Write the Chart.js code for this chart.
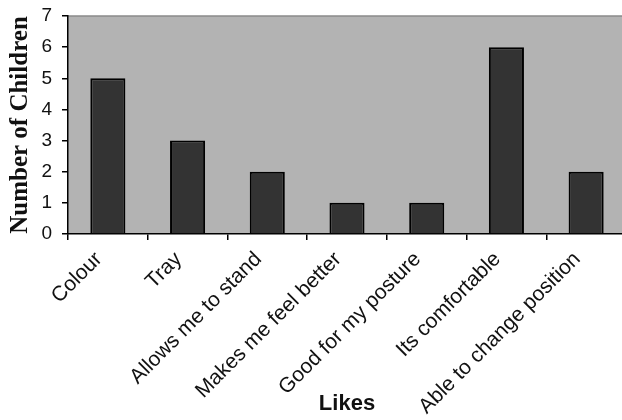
<!DOCTYPE html>
<html>
<head>
<meta charset="utf-8">
<script src="https://cdn.jsdelivr.net/npm/chart.js@4.4.1/dist/chart.umd.min.js"></script>
<style>
  html, body { margin: 0; padding: 0; background: #fff; overflow: hidden; }
  #wrap { width: 626px; height: 420px; }
</style>
</head>
<body>
<div id="wrap"><canvas id="chartLikes" width="626" height="420"></canvas></div>
<script>
// data
const likes = ["Colour", "Tray", "Allows me to stand", "Makes me feel better", "Good for my posture", "Its comfortable", "Able to change position"];
const children = [5, 3, 2, 1, 1, 6, 2];
const yTicks = [0, 1, 2, 3, 4, 5, 6, 7];

// grey plot background + top frame line
const plotBg = {
    id: 'plotBg',
    beforeDraw(chart) {
        const { ctx, chartArea: a } = chart;
        ctx.save();
        ctx.fillStyle = '#b3b3b3';
        ctx.fillRect(a.left, a.top, a.right - a.left, a.bottom - a.top);
        ctx.strokeStyle = '#8a8a8a';
        ctx.lineWidth = 1.5;
        ctx.beginPath();
        ctx.moveTo(a.left, a.top);
        ctx.lineTo(a.right, a.top);
        ctx.stroke();
        ctx.restore();
    }
};

new Chart(document.getElementById('chartLikes'), {
    type: 'bar',
    data: {
        labels: likes,
        datasets: [{
            data: children,
            backgroundColor: '#333333',
            borderColor: '#000',
            borderWidth: 2,
            categoryPercentage: 1,
            barPercentage: 0.44
        }]
    },
    options: {
        responsive: false,
        animation: false,
        layout: { padding: { top: 16, right: 0, left: 0, bottom: 0 } },
        plugins: { legend: { display: false }, tooltip: { enabled: false } },
        scales: {
            x: {
                afterFit: (s) => { s.height = 186; s.paddingLeft = 0; s.paddingRight = 0; s.paddingTop = 0; s.paddingBottom = 0; },
                border: { color: '#000', width: 1.5 },
                grid: { drawOnChartArea: false, color: '#000', lineWidth: 1.5, tickLength: 6, offset: true },
                ticks: {
                    autoSkip: false, minRotation: 45, maxRotation: 45, padding: 7, labelOffset: -9,
                    color: '#111', font: { family: 'Liberation Sans, Arial', size: 21 }
                },
                title: {
                    display: true, text: 'Likes', color: '#111',
                    font: { family: 'Liberation Sans, Arial', size: 22, weight: 'bold' },
                    padding: { top: 0, bottom: 3 }
                }
            },
            y: {
                min: 0,
                max: 7,
                afterFit: (s) => { s.width = 68; s.paddingTop = 0; s.paddingBottom = 0; },
                afterBuildTicks: (s) => { s.ticks = yTicks.map(v => ({ value: v })); },
                border: { color: '#000', width: 1.5 },
                grid: { drawOnChartArea: false, color: '#000', lineWidth: 1.5, tickLength: 6 },
                ticks: {
                    padding: 10, color: '#111',
                    font: { family: 'Liberation Sans, Arial', size: 19 }
                },
                title: {
                    display: true, text: 'Number of Children', color: '#111',
                    font: { family: 'Liberation Serif, Times New Roman', size: 25, weight: 'bold' },
                    padding: { top: 6, bottom: 0 }
                }
            }
        }
    },
    plugins: [plotBg]
});
</script>
</body>
</html>
